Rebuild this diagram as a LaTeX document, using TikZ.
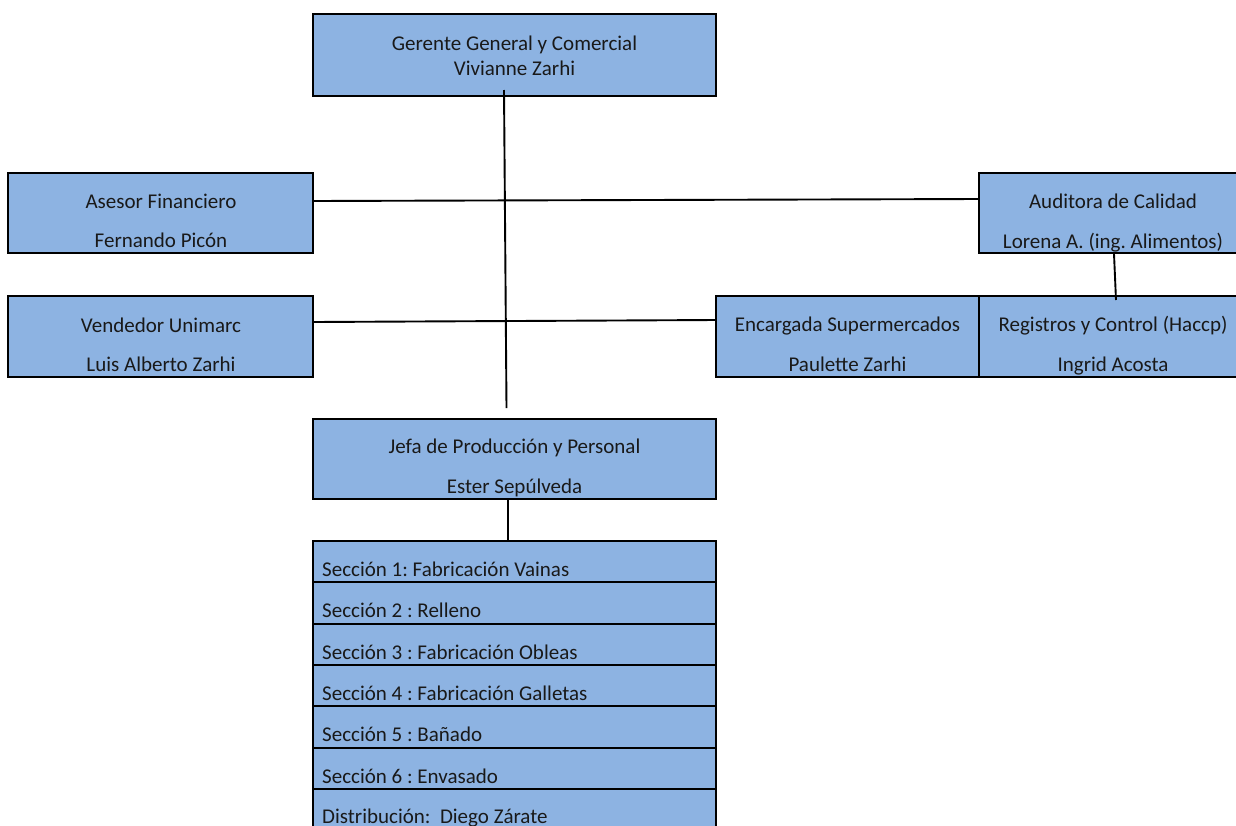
\documentclass[tikz,border=0pt]{standalone}
\usepackage{fontspec}
\setmainfont{Carlito}
\frenchspacing
\definecolor{boxblue}{HTML}{8DB3E2}
\begin{document}
\begin{tikzpicture}[x=1pt,y=-1pt,
  box/.style={rectangle, draw=black, fill=boxblue, line width=2pt, inner sep=0pt, outer sep=0pt},
  txt/.style={font=\fontsize{21}{25}\selectfont, inner sep=0pt, anchor=base, text=black!90},
  lefttxt/.style={txt, anchor=base west},
  link/.style={draw=black, line width=1.9pt}]
\clip (0,0) rectangle (1236,825);
% boxes
\node[box, minimum width=403pt, minimum height=82pt] (gerente) at (514.5,55) {};
\node[box, minimum width=305pt, minimum height=80pt] (asesor) at (160.5,213) {};
\node[box, minimum width=268pt, minimum height=80pt] (auditora) at (1113,213) {};
\node[box, minimum width=305pt, minimum height=81pt] (vendedor) at (160.5,336.5) {};
\node[box, minimum width=263pt, minimum height=81pt] (encargada) at (847.5,336.5) {};
\node[box, minimum width=268pt, minimum height=81pt] (registros) at (1113,336.5) {};
\node[box, minimum width=403pt, minimum height=80pt] (jefa) at (514.5,459) {};
\foreach \i in {1,...,7}{
  \pgfmathsetmacro{\ytop}{541+41.3*(\i-1)}
  \node[box, minimum width=403pt, minimum height=41.3pt, anchor=north] (sec\i) at (514.5,\ytop) {};
}
% texts
\node[txt] (gerenteA) at (514.5,50) {Gerente General y Comercial};
\node[txt] (gerenteB) at (514.5,75) {Vivianne Zarhi};
\node[txt] (asesorA) at (161,208) {Asesor Financiero};
\node[txt] (asesorB) at (161,247) {Fernando Picón};
\node[txt] (auditoraA) at (1113,208) {Auditora de Calidad};
\node[txt] (auditoraB) at (1113,248) {Lorena A. (ing. Alimentos)};
\node[txt] (vendedorA) at (161,332) {Vendedor Unimarc};
\node[txt] (vendedorB) at (161,371) {Luis Alberto Zarhi};
\node[txt] (encargadaA) at (847.5,331) {Encargada Supermercados};
\node[txt] (encargadaB) at (847.5,371) {Paulette Zarhi};
\node[txt] (registrosA) at (1113,331) {Registros y Control (Haccp)};
\node[txt] (registrosB) at (1113,371) {Ingrid Acosta};
\node[txt] (jefaA) at (514.5,453) {Jefa de Producción y Personal};
\node[txt] (jefaB) at (514.5,493) {Ester Sepúlveda};
\node[lefttxt] (secT1) at (322,576) {Sección 1: Fabricación Vainas};
\node[lefttxt] (secT2) at (322,617) {Sección 2 : Relleno};
\node[lefttxt] (secT3) at (322,659) {Sección 3 : Fabricación Obleas};
\node[lefttxt] (secT4) at (322,700) {Sección 4 : Fabricación Galletas};
\node[lefttxt] (secT5) at (322,741) {Sección 5 : Bañado};
\node[lefttxt] (secT6) at (322,783) {Sección 6 : Envasado};
\node[lefttxt] (secT7) at (322,823) {Distribución:~ Diego Zárate};
% connector end points
\coordinate (vtop) at (504,90);
\coordinate (vbot) at (506.5,408);
\coordinate (hAL) at (313,201);
\coordinate (hAR) at (979,199);
\coordinate (hVL) at (313,322);
\coordinate (hVR) at (716,320);
\coordinate (audB) at (1114,254);
\coordinate (regT) at (1116,300);
\coordinate (jefB) at (508,499);
\coordinate (secTop) at (508,541);
% connectors
\draw[link] (vtop) -- (vbot);
\draw[link] (hAL) -- (hAR);
\draw[link] (hVL) -- (hVR);
\draw[link] (audB) -- (regT);
\draw[link] (jefB) -- (secTop);
\end{tikzpicture}
\end{document}
